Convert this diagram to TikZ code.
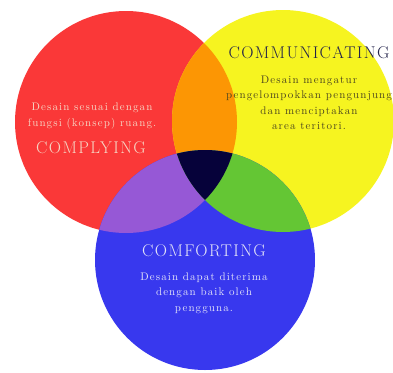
\documentclass[tikz,border=0pt]{standalone}
\usepackage{fontspec}
\usepackage{xcolor}
\usetikzlibrary{positioning}

\newfontfamily\titlefont[LetterSpace=8.0]{Latin Modern Roman}
\newfontfamily\bodyfont[LetterSpace=10.0]{Latin Modern Roman}

\definecolor{redc}{RGB}{250,56,56}
\definecolor{yellowc}{RGB}{246,244,32}
\definecolor{bluec}{RGB}{56,56,238}
\definecolor{orangec}{RGB}{252,150,4}
\definecolor{purplec}{RGB}{150,88,214}
\definecolor{greenc}{RGB}{100,198,52}
\definecolor{navyc}{RGB}{6,2,58}
\definecolor{lighttext}{RGB}{246,214,196}
\definecolor{bluetext}{RGB}{228,228,248}
\definecolor{darktext}{RGB}{34,34,74}
\definecolor{olivetext}{RGB}{76,70,30}

\tikzset{
  title/.style={font=\titlefont\fontsize{17}{19}\selectfont, inner sep=0pt},
  body/.style={font=\bodyfont\fontsize{11}{15.5}\selectfont, align=center, inner sep=0pt}
}

\begin{document}
\begin{tikzpicture}[x=1pt,y=-1pt]
  \useasboundingbox (0,0) rectangle (393,372);

  % three circles
  \fill[redc] (126,122) circle (111);
  \fill[yellowc] (283,121) circle (111);
  \fill[bluec] (205,260) circle (110);

  % overlaps
  \begin{scope}
    \clip (126,122) circle (111);
    \fill[orangec] (283,121) circle (111);
    \fill[purplec] (205,260) circle (110);
  \end{scope}
  \begin{scope}
    \clip (283,121) circle (111);
    \fill[greenc] (205,260) circle (110);
    \clip (126,122) circle (111);
    \fill[navyc] (205,260) circle (110);
  \end{scope}

  % texts
  \node[body, text=lighttext] (complybody) at (92,116) {Desain sesuai dengan\\fungsi (konsep) ruang.};
  \node[title, text=lighttext] (comply) at (91,148) {COMPLYING};

  \node[title, text=darktext] (communicate) at (309,53) {COMMUNICATING};
  \node[body, text=olivetext] (communicatebody) at (309,103) {Desain mengatur\\pengelompokkan pengunjung\\dan menciptakan\\area teritori.};

  \node[title, text=bluetext] (comfort) at (204,251) {COMFORTING};
  \node[body, text=bluetext] (comfortbody) at (204,293) {Desain dapat diterima\\dengan baik oleh\\pengguna.};
\end{tikzpicture}
\end{document}
